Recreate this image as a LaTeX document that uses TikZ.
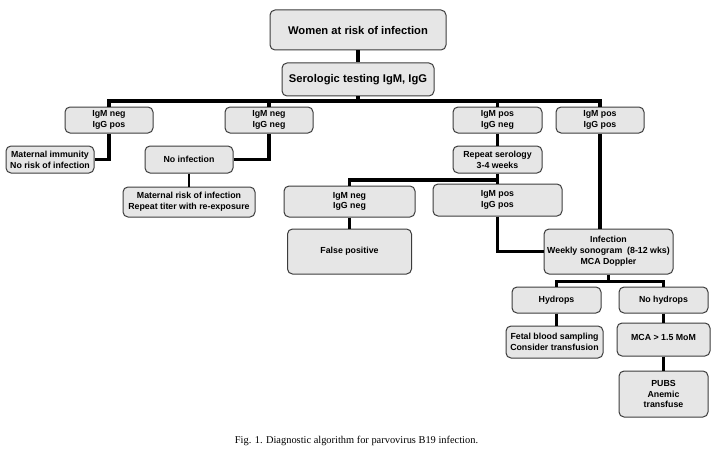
\documentclass[tikz,border=0pt]{standalone}
\usepackage{fontspec}
\setmainfont{Liberation Serif}
\newfontfamily\boxfont{Liberation Sans}
\definecolor{boxgray}{RGB}{230,230,230}
\definecolor{edgegray}{RGB}{60,60,60}
\tikzset{
    stepbox/.style={draw=edgegray, fill=boxgray, line width=1pt, rounded corners=5pt,
        align=center, inner sep=1pt, text=black,
        font=\boxfont\bfseries\fontsize{8.8}{10.8}\selectfont},
    headbox/.style={stepbox, font=\boxfont\bfseries\fontsize{11.2}{13}\selectfont},
    heavy/.style={line width=3.6pt},
    medium/.style={line width=3pt},
    light/.style={line width=2pt}
}

\begin{document}
\begin{tikzpicture}[x=1pt,y=-1pt]
    \useasboundingbox (0,0) rectangle (718,452);

    \node[headbox, minimum width=176pt, minimum height=40pt] (women) at (358,30) {Women at risk of infection};
    \node[headbox, minimum width=152pt, minimum height=33pt] (sero) at (358,79.5) {Serologic testing IgM, IgG};

    \node[stepbox, minimum width=88pt, minimum height=26pt] (negpos) at (109,120) {IgM neg\\IgG pos};
    \node[stepbox, minimum width=88pt, minimum height=26pt] (negneg) at (269,120) {IgM neg\\IgG neg};
    \node[stepbox, minimum width=89pt, minimum height=26pt] (posneg) at (497.5,120) {IgM pos\\IgG neg};
    \node[stepbox, minimum width=88pt, minimum height=26pt] (pospos) at (600,120) {IgM pos\\IgG pos};

    \node[stepbox, minimum width=88pt, minimum height=27pt] (immune) at (50,159.5) {Maternal immunity\\No risk of infection};
    \node[stepbox, minimum width=88pt, minimum height=27pt] (noinf) at (189,159.5) {No infection};
    \node[stepbox, minimum width=132pt, minimum height=30pt] (risk) at (189,202) {Maternal risk of infection\\Repeat titer with re-exposure};
    \node[stepbox, minimum width=89pt, minimum height=27pt] (repeat) at (497.5,159.5) {Repeat serology\\3-4 weeks};

    \node[stepbox, minimum width=131pt, minimum height=31pt] (negneg2) at (349.5,201.5) {IgM neg\\IgG neg};
    \node[stepbox, minimum width=129pt, minimum height=32pt] (pospos2) at (497.5,200) {IgM pos\\IgG pos};
    \node[stepbox, minimum width=124pt, minimum height=45pt] (falsepos) at (349.5,251.5) {False positive};
    \node[stepbox, minimum width=129pt, minimum height=45pt] (infect) at (608.5,251.5) {Infection\\Weekly sonogram~ (8-12 wks)\\MCA Doppler};

    \node[stepbox, minimum width=89pt, minimum height=26pt] (hydrops) at (556.5,300) {Hydrops};
    \node[stepbox, minimum width=89pt, minimum height=26pt] (nohydrops) at (663.5,300) {No hydrops};
    \node[stepbox, minimum width=97pt, minimum height=32pt] (fetal) at (554.5,342) {Fetal blood sampling\\Consider transfusion};
    \node[stepbox, minimum width=93pt, minimum height=33pt, text depth=4pt] (mca) at (663.5,339.5) {MCA > 1.5 MoM};
    \node[stepbox, minimum width=89pt, minimum height=46pt] (pubs) at (663.5,394) {PUBS\\Anemic\\transfuse};

    \node[font=\fontsize{10.4}{12}\selectfont] (caption) at (356.5,441) {Fig. 1. Diagnostic algorithm for parvovirus B19 infection.};

    % connectors
    \coordinate (bus1) at (358,101);
    \coordinate (bus2) at (497.5,180);
    \coordinate (bus3) at (608.5,281);

    \draw[heavy] (women) -- (sero);
    \draw[heavy] (sero) -- (bus1);
    \draw[heavy] (negpos.north) |- (bus1) -| (pospos.north);
    \draw[heavy] (negneg.north) -- (negneg.north |- bus1);
    \draw[heavy] (posneg.north) -- (posneg.north |- bus1);

    \draw[heavy] (negpos.south) |- (immune.east);
    \draw[heavy] (negneg.south) |- (noinf.east);
    \draw[light] (noinf) -- (risk);

    \draw[heavy] (posneg) -- (repeat);
    \draw[heavy] (repeat) -- (pospos2);
    \draw[heavy] (negneg2.north) |- (bus2);
    \draw[heavy] (negneg2) -- (falsepos);
    \draw[heavy] (pospos2.south) |- (infect.west);
    \draw[heavy] (pospos.south) -- (pospos.south |- infect.north);

    \draw[medium] (infect) -- (bus3);
    \draw[medium] (hydrops.north) |- (bus3) -| (nohydrops.north);
    \draw[medium] (hydrops.south) -- (hydrops.south |- fetal.north);
    \draw[medium] (nohydrops) -- (mca);
    \draw[medium] (mca) -- (pubs);
\end{tikzpicture}
\end{document}
